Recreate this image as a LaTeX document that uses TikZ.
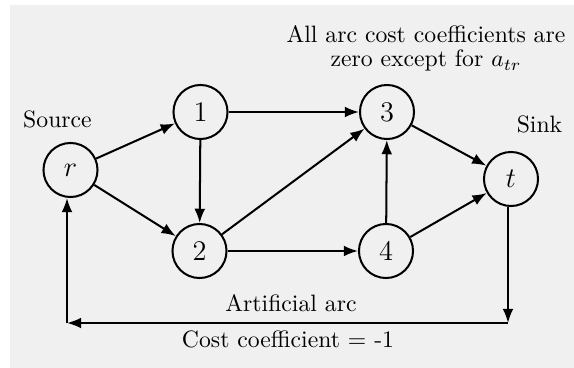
\documentclass[tikz,border=0pt]{standalone}
\usetikzlibrary{arrows.meta}
\definecolor{panel}{HTML}{F0F0F0}
\begin{document}
\begin{tikzpicture}[x=0.4219pt,y=-0.4219pt,
  vertex/.style={circle,draw,line width=0.85pt,minimum size=22.8pt,inner sep=0pt,font=\large},
  arc/.style={line width=0.85pt,-{Latex[length=6pt,width=4.6pt]}}]
  \useasboundingbox (0,0) rectangle (574,368);
  \fill[panel] (10,5) rectangle (574,368);

  % nodes of the network
  \node[vertex] (r) at (70.5,170) {$r$};
  \node[vertex] (n1) at (200.5,112) {1};
  \node[vertex] (n2) at (199.5,251) {2};
  \node[vertex] (n3) at (387,112) {3};
  \node[vertex] (n4) at (386,251) {4};
  \node[vertex] (t) at (511,179) {$t$};

  % corners of the return arc
  \coordinate (c1) at (508,323);
  \coordinate (c2) at (67,323);

  % labels
  \node[anchor=base] (src) at (57.5,128) {Source};
  \node[anchor=base] (snk) at (539.5,133) {Sink};
  \node[align=center,anchor=base] (note) at (426,66.7)
    {All arc cost coefficients are\\[-2pt] zero except for $a_{tr}$};
  \node[anchor=base] (art) at (291,312) {Artificial arc};
  \node[anchor=base] (cost) at (288,348) {Cost coefficient = -1};

  % arcs
  \draw[arc] (r) -- (n1);
  \draw[arc] (r) -- (n2);
  \draw[arc] (n1) -- (n3);
  \draw[arc] (n1) -- (n2);
  \draw[arc] (n2) -- (n3);
  \draw[arc] (n2) -- (n4);
  \draw[arc] (n4) -- (n3);
  \draw[arc] (n3) -- (t);
  \draw[arc] (n4) -- (t);

  % artificial arc from t back to r
  \draw[arc] (c1 |- t.south) -- (c1);
  \draw[arc] (c1) -- (c2);
  \draw[arc] (c2) -- (c2 |- r.south);
\end{tikzpicture}
\end{document}
